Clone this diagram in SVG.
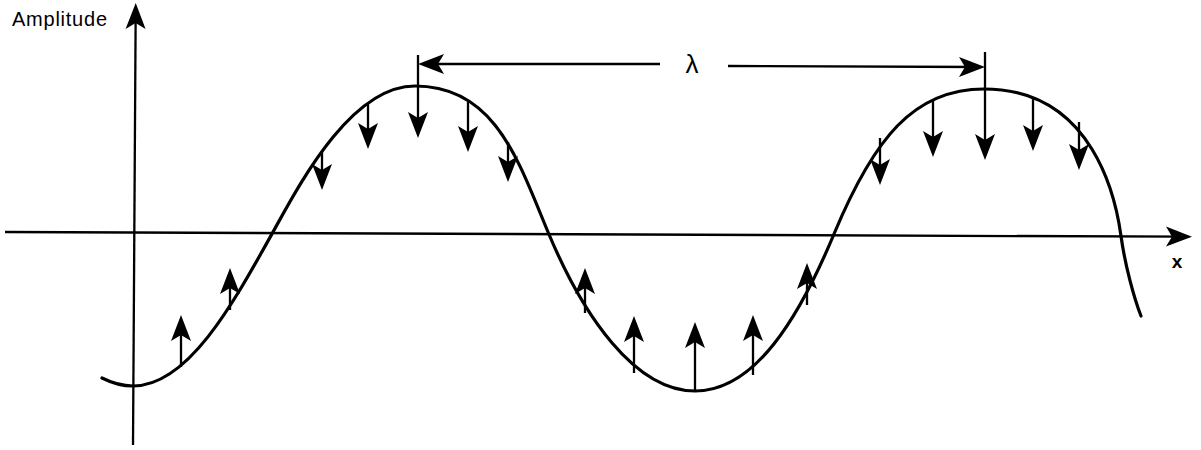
<svg xmlns="http://www.w3.org/2000/svg" width="1201" height="450" viewBox="0 0 1201 450">
<style>
.ax{stroke:#000;stroke-width:2;fill:none}
.ar{stroke:#000;stroke-width:2.3;fill:none;marker-end:url(#ah)}
.wave{stroke:#000;stroke-width:3.2;fill:none;stroke-linecap:round}
.lbl{font-family:"Liberation Sans",Arial,sans-serif;fill:#000}
</style>
<defs>
<marker id="ah" viewBox="-28 -11 30 22" markerWidth="30" markerHeight="22" refX="-6" refY="0" orient="auto" markerUnits="userSpaceOnUse">
<path d="M0,0 L-26,-10 L-20,0 L-26,10 Z" fill="#000"/>
</marker>
</defs>
<rect width="1201" height="450" fill="#fff"/>
<g id="axes">
<line class="ar" x1="133" y1="445" x2="135.7" y2="9"/>
<line class="ar" x1="5" y1="232" x2="1186" y2="236.7"/>
</g>
<g id="wave">
<path class="wave" d="M102,378 C112,383 122,386 133,386 C188,386 233,304 273,232 C298,187 350,86 415,86 C495,86 518,160 548,232 C583,316 635,391 695,391 C755,391 799,318 834,234 C874,138 914,89 984,89 C1094,89 1116,200 1121,236 C1125,265 1134,298 1141,316"/>
</g>
<g id="connectors">
<line class="ar" x1="322" y1="152" x2="322" y2="184"/>
<line class="ar" x1="368" y1="103" x2="368" y2="143"/>
<line class="ar" x1="418" y1="55" x2="418" y2="132"/>
<line class="ar" x1="468" y1="102" x2="468" y2="146"/>
<line class="ar" x1="508" y1="142" x2="508" y2="176"/>
<line class="ar" x1="880" y1="138" x2="880" y2="179"/>
<line class="ar" x1="933" y1="100" x2="933" y2="151"/>
<line class="ar" x1="985" y1="52" x2="985" y2="154"/>
<line class="ar" x1="1033" y1="97" x2="1033" y2="145"/>
<line class="ar" x1="1079" y1="122" x2="1079" y2="164"/>
<line class="ar" x1="181" y1="367" x2="181" y2="321"/>
<line class="ar" x1="230" y1="310" x2="230" y2="274"/>
<line class="ar" x1="585" y1="313" x2="585" y2="274"/>
<line class="ar" x1="634" y1="373" x2="634" y2="322"/>
<line class="ar" x1="695" y1="391" x2="695" y2="328"/>
<line class="ar" x1="753" y1="375" x2="753" y2="321"/>
<line class="ar" x1="807" y1="305" x2="807" y2="269"/>
<line class="ar" x1="660" y1="64" x2="424" y2="64"/>
<line class="ar" x1="728" y1="66" x2="979" y2="67"/>
</g>
<g id="labels">
<text class="lbl" x="12" y="26" font-size="20" textLength="95" lengthAdjust="spacing">Amplitude</text>
<text class="lbl" x="692" y="73" font-size="26" text-anchor="middle">λ</text>
<text class="lbl" x="1177" y="268" font-size="19" font-weight="bold" text-anchor="middle">x</text>
</g>
</svg>
